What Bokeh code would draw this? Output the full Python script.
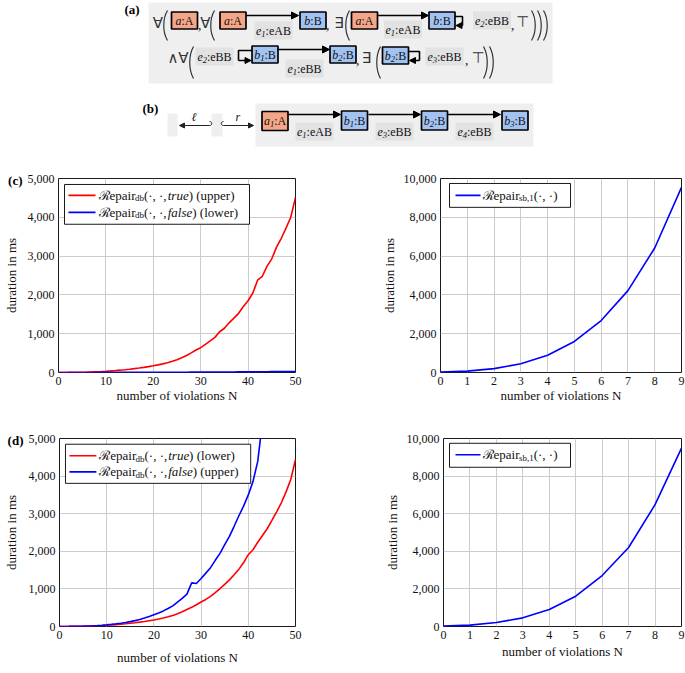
import math
from bokeh.plotting import figure
from bokeh.layouts import column, row
from bokeh.models import (Range1d, NumeralTickFormatter, FixedTicker, LinearAxis,
                          Arrow, NormalHead, ColumnDataSource)
from bokeh.embed import file_html
from bokeh.resources import INLINE
from bokeh.core.properties import value, field

SERIF = "Liberation Serif"
SYM = "DejaVu Sans"

# ---------------- data ----------------
N_DB = list(range(0, 51))
C_TRUE = [0, 1, 2, 4, 6, 8, 11, 15, 20, 26,
          33, 41, 50, 60, 72, 85, 100, 116, 133, 152,
          172, 196, 222, 252, 288, 328, 380, 440, 505, 580,
          640, 725, 815, 905, 1050, 1140, 1280, 1400, 1525, 1700,
          1850, 2050, 2380, 2480, 2740, 2930, 3230, 3460, 3720, 4000,
          4510]
C_FALSE = [0, 0, 0, 0, 1, 1, 1, 1, 1, 2,
           2, 2, 2, 3, 3, 3, 4, 4, 4, 5,
           5, 5, 6, 6, 7, 7, 8, 8, 9, 9,
           10, 10, 11, 12, 12, 13, 14, 14, 15, 16,
           17, 18, 19, 20, 21, 22, 23, 24, 25, 26,
           27]
D_TRUE = [0, 1, 2, 4, 6, 8, 11, 15, 20, 26,
          33, 41, 50, 60, 72, 86, 101, 117, 135, 155,
          172, 198, 226, 258, 295, 340, 390, 450, 510, 580,
          650, 720, 800, 900, 1010, 1120, 1240, 1375, 1520, 1700,
          1910, 2040, 2240, 2420, 2600, 2820, 3050, 3290, 3580, 3910,
          4440]
N_DB_D_FALSE = list(range(0, 44))
D_FALSE = [0, 1, 2, 4, 6, 9, 13, 18, 25, 34,
           45, 57, 71, 88, 107, 130, 156, 186, 225, 268,
           315, 362, 415, 478, 550, 650, 750, 862, 1160, 1145,
           1275, 1420, 1565, 1760, 1945, 2180, 2395, 2665, 2945, 3200,
           3500, 3860, 4390, 5450]
N_SB = list(range(0, 10))
C_SB = [20, 70, 200, 450, 890, 1600, 2680, 4220, 6420, 9540]
D_SB = [20, 75, 210, 460, 900, 1610, 2710, 4200, 6480, 9490]

X_TICKS_DB = [0, 10, 20, 30, 40, 50]
Y_TICKS_DB = [0, 1000, 2000, 3000, 4000, 5000]
X_TICKS_SB = list(range(0, 10))
Y_TICKS_SB = [0, 2000, 4000, 6000, 8000, 10000]

RED = "#ff0000"
BLUE = "#0000ff"
COL_A = "#f4a689"
COL_B = "#a2c3f2"
BG = "#efefef"
LBG = "#e2e2e2"

# approximate glyph widths (em) for placing rich text pieces
W_N = {' ': .25, '(': .333, ')': .333, ',': .25, '·': .25, ':': .278,
       'A': .722, 'B': .667, 'e': .444, 'p': .5, 'a': .444, 'i': .278,
       'r': .333, 'u': .5, 'l': .278, 'o': .5, 'w': .722, 'd': .5, 'b': .5,
       's': .389, '1': .5, 'ℛ': .8}
W_I = {'t': .278, 'r': .389, 'u': .5, 'e': .444, 'f': .278, 'a': .5,
       'l': .278, 's': .389, 'b': .5, '1': .5, '2': .5, '3': .5, '4': .5}


def tw(s, size, ital):
    tab = W_I if ital else W_N
    return sum(tab.get(ch, 0.5) for ch in s) * size


def chain(pieces, x0, y):
    out = []
    x = x0
    for txt, size, ital, dy in pieces:
        out.append((x, y + dy, txt, size, ital))
        x += tw(txt, size, ital)
    return out, x - x0


def draw_text(p, items, conv=None, font=SERIF, color="#111111", level="glyph"):
    d = dict(x=[], y=[], text=[], size=[], style=[])
    for (x, y, t, size, ital) in items:
        if conv is not None:
            x, y = conv(x, y)
        d["x"].append(x)
        d["y"].append(y)
        d["text"].append(t)
        d["size"].append("%.1fpx" % size)
        d["style"].append("italic" if ital else "normal")
    p.text(x="x", y="y", text="text", source=ColumnDataSource(d),
           text_font=value(font), text_font_size=field("size"),
           text_font_style=field("style"), text_baseline="middle",
           text_align="left", text_color=color, level=level)


# ---------------- diagram (a) / (b) ----------------
TOP_W, TOP_H = 685, 163
dg = figure(width=TOP_W, height=TOP_H, x_range=Range1d(0, TOP_W),
            y_range=Range1d(TOP_H, 0), toolbar_location=None,
            output_backend="svg", min_border=0)
dg.axis.visible = False
dg.grid.visible = False
dg.outline_line_color = None

# background panels
PANELS = [(148, 552, 2, 83), (255, 533, 103, 146), (167, 177, 113, 136), (211, 222, 113, 136)]
dg.quad(left=[q[0] for q in PANELS], right=[q[1] for q in PANELS],
        top=[q[2] for q in PANELS], bottom=[q[3] for q in PANELS],
        fill_color=BG, line_color=None)

# edge labels: (var, sub, type, cx, cy)
EDGE_LABELS = [("e", "1", "eAB", 273, 30), ("e", "1", "eAB", 402.5, 29),
               ("e", "2", "eBB", 491.5, 20), ("e", "2", "eBB", 214, 56),
               ("e", "1", "eBB", 304, 68), ("e", "3", "eBB", 444, 56),
               ("e", "1", "eAB", 314, 131), ("e", "3", "eBB", 394, 131),
               ("e", "4", "eBB", 474, 131)]
dg.quad(left=[e[3] - 19 for e in EDGE_LABELS], right=[e[3] + 19 for e in EDGE_LABELS],
        top=[e[4] - 9 for e in EDGE_LABELS], bottom=[e[4] + 9 for e in EDGE_LABELS],
        fill_color=LBG, line_color=None)

# nodes: (var, sub, type, cx, cy, h)
NODES = [("a", "", "A", 184, 20, 17), ("a", "", "A", 232.5, 20, 17),
         ("b", "", "B", 312.5, 20, 17), ("a", "", "A", 364, 20, 17),
         ("b", "", "B", 441.5, 20, 17), ("b", "1", "B", 264.5, 54, 17),
         ("b", "2", "B", 342.5, 54, 17), ("b", "2", "B", 395, 55, 17),
         ("a", "1", "A", 274.5, 120.5, 19), ("b", "1", "B", 354, 120, 19),
         ("b", "2", "B", 434, 120, 19), ("b", "3", "B", 514.5, 120, 19)]
dg.quad(left=[n[3] - 13 for n in NODES], right=[n[3] + 13 for n in NODES],
        top=[n[4] - n[5] / 2 for n in NODES], bottom=[n[4] + n[5] / 2 for n in NODES],
        fill_color=[COL_A if n[2] == "A" else COL_B for n in NODES],
        line_color="black", line_width=1.7)

# straight edges
EDGES = [(246, 15, 298, 15), (377, 15, 428, 15), (277, 49, 329, 49),
         (288, 114, 340, 114), (368, 114, 420, 114), (447, 114, 500, 114)]
for (x0, y0, x1, y1) in EDGES:
    dg.add_layout(Arrow(x_start=x0, y_start=y0, x_end=x1, y_end=y1, line_width=1.5,
                        line_color="black",
                        end=NormalHead(size=7, fill_color="black", line_color="black")))

# self loops
LOOPS = [[(454.5, 16), (462, 16), (462, 25), (455.5, 25)],
         [(251.5, 50), (238, 50), (238, 60), (250.5, 60)],
         [(408, 51), (419, 51), (419, 60), (409, 60)]]
for pts in LOOPS:
    dg.line(x=[q[0] for q in pts[:3]], y=[q[1] for q in pts[:3]], line_color="black",
            line_width=1.6)
    dg.add_layout(Arrow(x_start=pts[2][0], y_start=pts[2][1], x_end=pts[3][0], y_end=pts[3][1],
                        line_width=1.6, line_color="black",
                        end=NormalHead(size=6, fill_color="black", line_color="black")))

# hook arrows in (b)
dg.add_layout(Arrow(x_start=209, y_start=125, x_end=179, y_end=125, line_width=1.0,
                    end=NormalHead(size=5, fill_color="#222", line_color="#222"), line_color="#222"))
dg.add_layout(Arrow(x_start=223, y_start=125, x_end=253, y_end=125, line_width=1.0,
                    end=NormalHead(size=5, fill_color="#222", line_color="#222"), line_color="#222"))
dg.bezier(x0=[209, 223], y0=[125, 125], x1=[209, 223], y1=[121, 121],
          cx0=[212, 220], cy0=[125, 125], cx1=[212, 220], cy1=[121, 121],
          line_color="#222", line_width=1.0)

# brackets: (x, top, bottom, open?)
PARENS = [(162, 10, 40, True), (209, 10, 40, True), (344, 10, 40, True),
          (531, 10, 40, False), (537, 10, 40, False), (543, 10, 40, False),
          (188, 46, 78, True), (375, 46, 78, True),
          (483, 46, 78, False), (489, 46, 78, False)]
bx0, by0, bx1, by1, bcx0, bcy0, bcx1, bcy1 = [], [], [], [], [], [], [], []
for (x, t, b, op) in PARENS:
    h = b - t
    end_x, mid_x = (x + 5, x) if op else (x, x + 5)
    bx0.append(end_x); by0.append(t); bx1.append(end_x); by1.append(b)
    bcx0.append(mid_x); bcy0.append(t + 0.28 * h); bcx1.append(mid_x); bcy1.append(b - 0.28 * h)
dg.bezier(x0=bx0, y0=by0, x1=bx1, y1=by1, cx0=bcx0, cy0=bcy0, cx1=bcx1, cy1=bcy1,
          line_color="#333333", line_width=1.2)

# symbols
SYMS = [("∀", 157.5, 22), ("∀", 205, 22), ("∃", 338.5, 22), ("⊤", 522, 21),
        ("∧∀", 177.5, 57), ("∃", 366, 57), ("⊤", 477.5, 57)]
dg.text(x=[s[1] for s in SYMS], y=[s[2] for s in SYMS], text=[s[0] for s in SYMS],
        text_font=value(SYM), text_font_size="15px", text_align="center",
        text_baseline="middle", text_color="#333333")
COMMAS = [(199, 24), (327, 24), (512, 24), (357, 59), (466, 59)]
dg.text(x=[c[0] for c in COMMAS], y=[c[1] for c in COMMAS], text=[","] * len(COMMAS),
        text_font=value(SERIF), text_font_size="15px", text_align="center",
        text_baseline="middle", text_color="#333333")

# node and edge label texts
items = []
for (var, sub, typ, cx, cy, *_r) in NODES + EDGE_LABELS:
    pcs = [(var, 12, True, 0.0)]
    if sub:
        pcs.append((sub, 8.5, True, 3.0))
    pcs.append((":" + typ, 12, False, 0.0))
    _, wdt = chain(pcs, 0, 0)
    its, _ = chain(pcs, cx - wdt / 2, cy)
    items += its
draw_text(dg, items)

# arrow labels in (b)
draw_text(dg, [(191, 116, "ℓ", 12, True), (235, 116, "r", 12, True)])

# panel letters
dg.text(x=[124, 142], y=[9, 108], text=["(a)", "(b)"], text_font=value(SERIF),
        text_font_size="13px", text_font_style="bold", text_baseline="middle",
        text_align="left", text_color="black")


# ---------------- charts ----------------
def style_axis(ax):
    ax.axis_line_color = None
    ax.major_tick_line_color = None
    ax.minor_tick_line_color = None
    ax.major_tick_out = 0
    ax.major_tick_in = 0
    ax.minor_tick_out = 0
    ax.minor_tick_in = 0
    ax.major_label_text_font = SERIF
    ax.major_label_text_font_size = "12px"
    ax.major_label_text_color = "#111111"
    ax.axis_label_text_font = SERIF
    ax.axis_label_text_font_size = "13px"
    ax.axis_label_text_font_style = "normal"
    ax.axis_label_text_color = "#111111"
    ax.major_label_standoff = 4


def make_chart(width, height, bl, br, bt, bb, xr, yr, xticks, yticks, xstd, panel=None):
    p = figure(width=width, height=height, x_range=Range1d(*xr), y_range=Range1d(*yr),
               toolbar_location=None, output_backend="svg",
               min_border_left=bl, min_border_right=br,
               min_border_top=bt, min_border_bottom=bb)
    p.background_fill_color = "white"
    p.border_fill_color = "white"
    p.outline_line_color = "#1a1a1a"
    p.outline_line_width = 1
    p.xaxis.ticker = FixedTicker(ticks=xticks)
    p.yaxis.ticker = FixedTicker(ticks=yticks)
    p.xaxis.formatter = NumeralTickFormatter(format="0,0")
    p.yaxis.formatter = NumeralTickFormatter(format="0,0")
    for ax in p.axis:
        style_axis(ax)
    p.xaxis.axis_label = "number of violations N"
    p.xaxis.axis_label_standoff = xstd
    if panel:
        # outer left axis: carries the panel letter as its only tick label,
        # and the y-axis title (pulled in next to it)
        top = yr[1] - 0.012 * (yr[1] - yr[0])
        ax2 = LinearAxis(ticker=FixedTicker(ticks=[top]),
                         major_label_overrides={top: panel})
        style_axis(ax2)
        ax2.major_label_text_font_style = "bold"
        ax2.major_label_text_font_size = "13px"
        ax2.major_label_text_color = "black"
        ax2.major_label_standoff = 2
        ax2.axis_label = "duration in ms"
        ax2.axis_label_standoff = -14
        p.add_layout(ax2, "left")
    else:
        p.yaxis.axis_label = "duration in ms"
        p.yaxis.axis_label_standoff = 4
    p.grid.grid_line_color = "#cccccc"
    p.grid.grid_line_width = 1
    fw = width - bl - br
    fh = height - bt - bb

    def conv(dx, dy):
        return (xr[0] + dx / fw * (xr[1] - xr[0]), yr[1] - dy / fh * (yr[1] - yr[0]))

    return p, conv


def legend(p, conv, box, rows):
    (l, r, t, b) = box
    (x0, y0), (x1, y1) = conv(l, t), conv(r, b)
    p.quad(left=[x0], right=[x1], top=[y0], bottom=[y1], fill_color="white",
           line_color="#1a1a1a", line_width=1)
    items = []
    for (color, s0, s1, dy, tx, pcs) in rows:
        (ax, ay), (bx, by) = conv(s0, dy), conv(s1, dy)
        p.line(x=[ax, bx], y=[ay, by], line_color=color, line_width=1.6)
        its, _ = chain(pcs, tx, dy)
        items += its
    draw_text(p, items, conv=conv)


def db_pieces(flag, which):
    return [("ℛepair", 13, False, 0.0), ("db", 9, False, 3.0), ("(·, ·, ", 13, False, 0.0),
            (flag, 13, True, 0.0), (") (" + which + ")", 13, False, 0.0)]


SB_PIECES = [("ℛepair", 13, False, 0.0), ("sb,1", 9, False, 3.0), ("(·, ·)", 13, False, 0.0)]

LW, RW = 365, 320

# (c) left
cl, cl_conv = make_chart(LW, 242, 58, 70, 15, 32, (0, 50), (0, 5000),
                         X_TICKS_DB, Y_TICKS_DB, 0, panel="(c)")
cl.line(N_DB, C_TRUE, line_color=RED, line_width=1.6)
cl.line(N_DB, C_FALSE, line_color=BLUE, line_width=1.6)
legend(cl, cl_conv, (6, 191, 6, 46),
       [(RED, 10, 37, 17, 40, db_pieces("true", "upper")),
        (BLUE, 10, 37, 34, 40, db_pieces("false", "lower"))])

# (c) right
cr, cr_conv = make_chart(RW, 242, 75, 4, 15, 32, (0, 9), (0, 10000),
                         X_TICKS_SB, Y_TICKS_SB, 0)
cr.line(N_SB, C_SB, line_color=BLUE, line_width=1.6)
legend(cr, cr_conv, (9, 130, 5, 29), [(BLUE, 15, 40, 17, 42, SB_PIECES)])

# (d) left
dl, dl_conv = make_chart(LW, 268, 58, 70, 24, 47, (0, 50), (0, 5000),
                         X_TICKS_DB, Y_TICKS_DB, 8, panel="(d)")
dl.line(N_DB, D_TRUE, line_color=RED, line_width=1.6)
dl.line(N_DB_D_FALSE, D_FALSE, line_color=BLUE, line_width=1.6)
legend(dl, dl_conv, (6, 192, 6, 47),
       [(RED, 10, 37, 18, 40, db_pieces("true", "lower")),
        (BLUE, 10, 37, 35, 40, db_pieces("false", "upper"))])

# (d) right
dr, dr_conv = make_chart(RW, 268, 78, 4, 33, 39, (0, 9), (0, 10000),
                         X_TICKS_SB, Y_TICKS_SB, 2)
dr.line(N_SB, D_SB, line_color=BLUE, line_width=1.6)
legend(dr, dr_conv, (6, 127, 5, 30), [(BLUE, 12, 37, 17, 39, SB_PIECES)])

layout = column(dg, row(cl, cr), row(dl, dr))
open("out.html", "w").write(file_html(layout, INLINE))
